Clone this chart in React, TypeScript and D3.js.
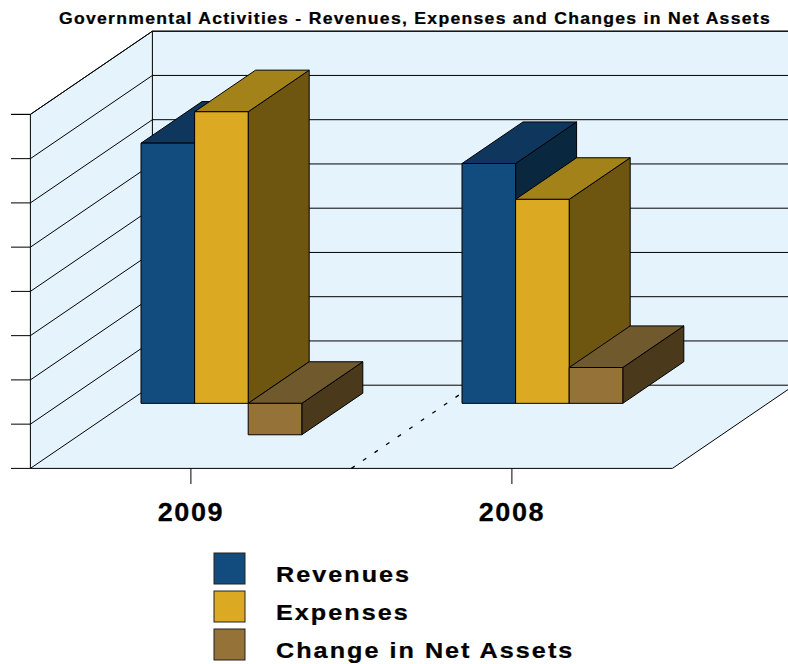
import React from "react";
import * as d3 from "d3";

const chartTitle = "Governmental Activities - Revenues, Expenses and Changes in Net Assets";
const years = ["2009", "2008"];
const seriesNames = ["Revenues", "Expenses", "Change in Net Assets"];
const revenues = [5.88, 5.42];
const expenses = [6.59, 4.61];
const netChange = [-0.71, 0.81];
const valueTicks = [-1, 0, 1, 2, 3, 4, 5, 6, 7];
const frontColors = ["#124C7E", "#DBAA22", "#957237"];
const topColors = ["#0F365C", "#A4821A", "#70592C"];
const sideColors = ["#0A2740", "#6E5510", "#4B391C"];
const wallColor = "#E5F3FD";
const seriesValues = [revenues, expenses, netChange];

const W = 788;
const H = 664;
const depthX = 122;
const depthY = 83.2;
const FONT = "'Liberation Sans', Arial, sans-serif";

const y = d3.scaleLinear().domain([-1, 7]).range([468.4, 114.4]);
const xCat = d3.scaleBand<string>().domain(years).range([30.4, 672.4]);
const xSeries = d3.scaleBand<string>().domain(seriesNames).range([-80.4, 80.4]);

// Oblique projection: depth 0 is the front edge of the floor, 1 the back wall.
const project = (px: number, py: number, depth: number): [number, number] => [
  px + depthX * depth,
  py - depthY * depth,
];
const poly = (pts: [number, number][]) => d3.line()(pts)! + "Z";

const barStart = 0.25;
const barEnd = 0.75;

function Bar3D({ x0, x1, value, s }: { x0: number; x1: number; value: number; s: number }) {
  const top = y(Math.max(value, 0));
  const bottom = y(Math.min(value, 0));
  const p = project;
  const stroke = { stroke: "#000", strokeWidth: 1, strokeLinejoin: "round" as const };
  return (
    <g>
      <path
        d={poly([p(x1, top, barStart), p(x1, top, barEnd), p(x1, bottom, barEnd), p(x1, bottom, barStart)])}
        fill={sideColors[s]}
        {...stroke}
      />
      <path
        d={poly([p(x0, top, barStart), p(x1, top, barStart), p(x1, top, barEnd), p(x0, top, barEnd)])}
        fill={topColors[s]}
        {...stroke}
      />
      <path
        d={poly([p(x0, top, barStart), p(x1, top, barStart), p(x1, bottom, barStart), p(x0, bottom, barStart)])}
        fill={frontColors[s]}
        {...stroke}
      />
    </g>
  );
}

// Bold label with horizontally widened glyphs.
function WideText({
  x,
  y: baseline,
  size,
  stretch,
  spacing = 0,
  anchor = "start",
  children,
}: {
  x: number;
  y: number;
  size: number;
  stretch: number;
  spacing?: number;
  anchor?: "start" | "middle";
  children: string;
}) {
  return (
    <text
      transform={`translate(${x},${baseline}) scale(${stretch},1)`}
      textAnchor={anchor}
      fontFamily={FONT}
      fontWeight={700}
      fontSize={size}
      letterSpacing={spacing}
      stroke="#000"
      strokeWidth={0.25}
    >
      {children}
    </text>
  );
}

export default function App() {
  const [xL, xR] = xCat.range();
  const yBottom = y(-1);
  const yTop = y(7);
  const divider = xCat(years[1])!;
  const backLeft = xL + depthX;
  const legendRows = [568.5, 606.5, 644.5];

  return (
    <svg
      width={W}
      height={H}
      viewBox={`0 0 ${W} ${H}`}
      style={{ position: "absolute", left: 0, top: 0, background: "#fff" }}
    >
      <WideText x={59} y={24} size={16} stretch={1.1} spacing={1.17}>
        {chartTitle}
      </WideText>

      {/* Side wall, back wall and floor */}
      <path
        d={poly([project(xL, yBottom, 0), project(xL, yTop, 0), project(xL, yTop, 1), project(xL, yBottom, 1)])}
        fill={wallColor}
      />
      <path
        d={poly([
          [backLeft, yTop - depthY],
          [W, yTop - depthY],
          [W, yBottom - depthY],
          [backLeft, yBottom - depthY],
        ])}
        fill={wallColor}
      />
      <path
        d={poly([project(xL, yBottom, 0), project(xR, yBottom, 0), project(xR, yBottom, 1), project(xL, yBottom, 1)])}
        fill={wallColor}
      />

      {/* Gridlines running along the side wall and across the back wall */}
      {[...valueTicks, 7].map((t, i) => {
        const yy = y(t);
        const back = project(xL, yy, 1);
        return (
          <g key={i} stroke="#000" strokeWidth={1} fill="none">
            <line x1={11} x2={xL} y1={yy} y2={yy} />
            <line x1={xL} y1={yy} x2={back[0]} y2={back[1]} />
            <line x1={back[0]} y1={back[1]} x2={W + 10} y2={back[1]} />
          </g>
        );
      })}
      <g stroke="#000" strokeWidth={1} fill="none">
        <line x1={xL} x2={xL} y1={yTop} y2={yBottom} />
        <line x1={backLeft} x2={backLeft} y1={yTop - depthY} y2={yBottom - depthY} />
        <line x1={xL} x2={xR} y1={yBottom} y2={yBottom} />
        <line
          x1={xR}
          y1={yBottom}
          x2={project(xR, yBottom, 1)[0]}
          y2={project(xR, yBottom, 1)[1]}
        />
        <line
          x1={divider}
          y1={yBottom}
          x2={project(divider, yBottom, 1)[0]}
          y2={project(divider, yBottom, 1)[1]}
          strokeDasharray="4 10"
          strokeWidth={1.3}
        />
      </g>

      {/* Category ticks and labels */}
      {years.map((year) => {
        const cx = xCat(year)! + xCat.bandwidth() / 2;
        return (
          <g key={year}>
            <line x1={cx} x2={cx} y1={yBottom} y2={484} stroke="#000" strokeWidth={1} />
            <WideText x={cx} y={521} size={25} stretch={1.08} spacing={1.5} anchor="middle">
              {year}
            </WideText>
          </g>
        );
      })}

      {/* Bars, drawn left to right so nearer side faces stack correctly */}
      {years.map((year, c) =>
        seriesNames.map((name, s) => {
          const cx = xCat(year)! + xCat.bandwidth() / 2;
          const x0 = cx + xSeries(name)!;
          return (
            <Bar3D
              key={year + name}
              x0={x0}
              x1={x0 + xSeries.bandwidth()}
              value={seriesValues[s][c]}
              s={s}
            />
          );
        })
      )}

      {/* Legend */}
      {seriesNames.map((name, s) => (
        <g key={name}>
          <rect
            x={214}
            y={legendRows[s] - 15.5}
            width={31}
            height={31}
            fill={frontColors[s]}
            stroke="#222"
            strokeWidth={1}
          />
          <WideText x={276} y={legendRows[s] + 13} size={22.5} stretch={1.12} spacing={1.8}>
            {name}
          </WideText>
        </g>
      ))}
    </svg>
  );
}
